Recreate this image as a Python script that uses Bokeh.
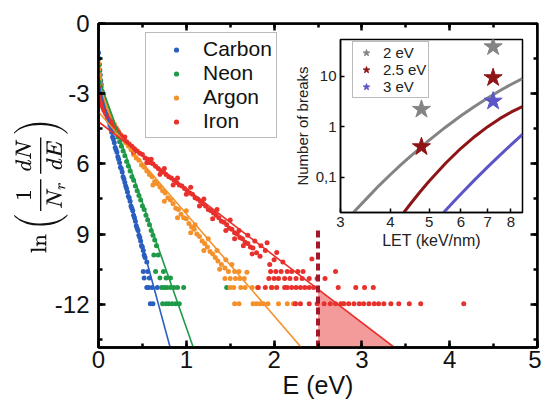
from bokeh.plotting import figure
from bokeh.models import (Range1d, SingleIntervalTicker, LinearAxis, FixedTicker,
                          CustomJSTickFormatter, Legend, LegendItem)
from bokeh.embed import file_html
from bokeh.resources import INLINE

# ---------------- main panel data ----------------
carbon_x = [0.00, 0.005, 0.01, 0.015, 0.02, 0.025, 0.03, 0.04, 0.05, 0.06, 0.07, 0.08, 0.09, 0.10,
            0.11, 0.12, 0.13, 0.14, 0.15, 0.16, 0.17, 0.18, 0.19, 0.20, 0.21, 0.22, 0.23, 0.24,
            0.25, 0.26, 0.27, 0.28, 0.29, 0.30, 0.31, 0.32, 0.33, 0.34, 0.35, 0.36, 0.37, 0.38,
            0.39, 0.40, 0.41, 0.42, 0.43, 0.44, 0.45, 0.46, 0.47, 0.48, 0.49, 0.50, 0.51, 0.52,
            0.53, 0.55, 0.51, 0.56, 0.52, 0.58, 0.55, 0.61, 0.57, 0.67, 0.59, 0.62]
carbon_y = [-1.25, -1.5, -1.75, -2.0, -2.2, -2.45, -2.6, -2.9, -3.1, -3.3, -3.45, -3.6, -3.75, -3.9,
            -4.05, -4.2, -4.35, -4.5, -4.65, -4.85, -4.95, -5.1, -5.3, -5.4, -5.5, -5.7, -5.8, -5.95,
            -6.15, -6.2, -6.35, -6.55, -6.65, -6.8, -6.95, -7.05, -7.2, -7.4, -7.45, -7.6, -7.8, -7.9,
            -8.0, -8.2, -8.3, -8.45, -8.65, -8.75, -8.85, -9.05, -9.15, -9.3, -9.5, -9.55, -9.7, -9.9,
            -10.0, -10.2, -10.6, -10.6, -10.88, -10.88, -11.28, -11.28, -11.28, -11.28, -11.98, -11.98]

neon_x = [0.00, 0.005, 0.01, 0.015, 0.02, 0.03, 0.04, 0.05, 0.06, 0.07, 0.08, 0.09, 0.10, 0.11,
          0.12, 0.13, 0.14, 0.15, 0.16, 0.17, 0.18, 0.19, 0.20, 0.22, 0.24, 0.26, 0.28, 0.30, 0.32,
          0.34, 0.36, 0.38, 0.40, 0.42, 0.44, 0.46, 0.48, 0.50, 0.52, 0.54, 0.56, 0.58, 0.60, 0.62,
          0.64, 0.66, 0.63, 0.68, 0.65, 0.74, 0.70, 0.77, 0.82,
          0.72, 0.75, 0.78, 0.82, 0.86, 0.90, 0.97, 0.73, 0.77, 0.80, 0.84, 0.88, 0.92, 1.46]
neon_y = [-1.5, -1.75, -2.0, -2.2, -2.4, -2.7, -2.9, -3.05, -3.2, -3.3, -3.4, -3.5, -3.6, -3.7,
          -3.8, -3.9, -4.0, -4.1, -4.2, -4.3, -4.4, -4.5, -4.6, -4.85, -5.05, -5.25, -5.45, -5.65, -5.9,
          -6.1, -6.3, -6.55, -6.7, -6.95, -7.15, -7.35, -7.55, -7.8, -7.95, -8.2, -8.4, -8.6, -8.85, -9.05,
          -9.25, -9.5, -9.9, -9.9, -10.6, -10.6, -10.88, -10.88, -10.88,
          -11.28, -11.28, -11.28, -11.28, -11.28, -11.28, -11.28, -11.98, -11.98, -11.98, -11.98,
          -11.98, -11.98, -11.28]

argon_x = [0.00, 0.005, 0.01, 0.015, 0.02, 0.03, 0.04, 0.05, 0.06, 0.07, 0.08, 0.09, 0.10, 0.12,
           0.14, 0.16, 0.18, 0.20, 0.22, 0.25, 0.28, 0.31, 0.34, 0.37, 0.40, 0.43, 0.46, 0.49, 0.52,
           0.55, 0.58, 0.61, 0.64, 0.67, 0.70, 0.73, 0.76, 0.79, 0.82, 0.85, 0.88, 0.91, 0.94, 0.97,
           1.00, 1.03, 1.06, 1.09, 1.12, 1.15, 1.18, 1.21, 1.24, 1.27, 1.30, 1.33, 1.36, 1.40, 1.44,
           1.48, 0.62, 0.75, 0.90, 1.00, 1.05, 1.10, 1.20, 1.25, 1.35, 1.38, 1.45, 1.52, 1.55, 1.60,
           1.69, 1.44, 1.50, 1.56, 1.61, 1.66, 1.50, 1.54, 1.62, 1.67, 1.75, 1.81, 1.98,
           1.55, 1.60, 1.76, 1.80, 1.84, 1.88, 1.93, 2.05, 2.15, 2.22, 2.25, 2.80]
argon_y = [-1.7, -1.95, -2.2, -2.4, -2.6, -2.85, -3.05, -3.2, -3.35, -3.45, -3.55, -3.65, -3.75, -3.9,
           -4.05, -4.2, -4.3, -4.45, -4.55, -4.75, -4.9, -5.1, -5.25, -5.4, -5.6, -5.75, -5.85, -6.05,
           -6.15, -6.3, -6.45, -6.55, -6.75, -6.85, -7.0, -7.15, -7.25, -7.45, -7.55, -7.7, -7.9, -7.95,
           -8.15, -8.3, -8.35, -8.55, -8.7, -8.8, -9.0, -9.1, -9.3, -9.4, -9.55, -9.75, -9.85, -10.0,
           -10.15, -10.3, -10.45, -10.6, -6.9, -7.6, -8.3, -8.0, -8.95, -8.6, -9.7, -9.2, -9.7, -10.5,
           -10.1, -10.3, -10.6, -10.6, -10.63, -10.9, -10.9, -10.9, -10.9, -10.9,
           -11.28, -11.28, -11.28, -11.28, -11.28, -11.28, -11.28,
           -11.98, -11.98, -11.98, -11.98, -11.98, -11.98, -11.98, -11.98, -11.98, -11.98, -11.98, -11.98]

iron_x = [0.00, 0.005, 0.01, 0.015, 0.02, 0.03, 0.04, 0.05, 0.06, 0.07, 0.08, 0.09, 0.10, 0.12,
          0.14, 0.16, 0.18, 0.20, 0.23, 0.26, 0.29, 0.32, 0.35, 0.38, 0.41, 0.44, 0.47, 0.50, 0.53,
          0.56, 0.59, 0.62, 0.65, 0.68, 0.71, 0.74, 0.77, 0.80, 0.83, 0.86, 0.89, 0.92, 0.95, 0.98,
          1.01, 1.04, 1.07, 1.10, 1.13, 1.16, 1.19, 1.22, 1.25, 1.28, 1.31, 1.34, 1.37, 1.40, 1.43,
          1.46, 1.49, 1.52, 1.55, 1.58, 1.61, 1.64, 1.67, 1.70, 1.73, 1.76, 1.80, 1.84,
          0.30, 0.40, 0.55, 0.60, 0.70, 0.75, 0.85, 0.90, 1.00, 1.05, 1.15, 1.20, 1.30, 1.35, 1.45,
          1.50, 1.55, 1.60, 1.65, 1.70, 1.75, 1.78, 1.85, 1.90, 1.92, 2.03, 2.00, 1.95, 2.43, 2.10,
          1.96, 2.02, 2.08, 2.15, 2.20, 2.27, 2.33, 2.70,
          1.94, 2.00, 2.05, 2.12, 2.18, 2.25, 2.32, 2.40, 2.49, 2.58,
          1.82, 1.90, 1.97, 2.03, 2.12, 2.15, 2.20, 2.25, 2.30, 2.35, 2.40, 2.45, 2.73, 2.93, 3.03, 3.13,
          2.24, 2.30, 2.40, 2.49, 2.57, 2.64, 2.70, 2.76, 2.79, 2.85, 2.91, 2.97, 3.02, 3.08, 3.14,
          3.19, 3.25, 3.33, 3.42, 3.54, 3.67, 4.16]
iron_y = [-2.5, -2.75, -2.95, -3.1, -3.2, -3.35, -3.5, -3.6, -3.7, -3.75, -3.85, -3.9, -4.0, -4.1,
          -4.2, -4.3, -4.4, -4.5, -4.65, -4.8, -4.95, -5.05, -5.15, -5.25, -5.35, -5.45, -5.55, -5.6,
          -5.75, -5.8, -5.95, -6.0, -6.1, -6.2, -6.3, -6.35, -6.45, -6.55, -6.6, -6.7, -6.8, -6.9,
          -6.95, -7.05, -7.15, -7.25, -7.3, -7.45, -7.5, -7.6, -7.7, -7.8, -7.95, -8.0, -8.1, -8.2,
          -8.3, -8.45, -8.5, -8.6, -8.75, -8.8, -8.95, -9.0, -9.15, -9.2, -9.35, -9.4, -9.55, -9.6,
          -9.8, -9.95,
          -4.85, -5.5, -5.95, -5.8, -6.45, -6.2, -6.9, -6.6, -7.3, -7.0, -7.8, -7.5, -8.35, -7.95,
          -8.85, -8.4, -9.2, -8.85, -9.5, -9.05, -9.85, -9.3, -9.5, -9.7, -9.37, -9.79, -10.1, -10.3,
          -10.07, -10.2,
          -10.6, -10.6, -10.6, -10.6, -10.6, -10.6, -10.6, -10.6,
          -10.9, -10.9, -10.9, -10.9, -10.9, -10.9, -10.9, -10.9, -10.9, -10.9,
          -11.28, -11.28, -11.28, -11.28, -11.28, -11.28, -11.28, -11.28, -11.28, -11.28, -11.28,
          -11.28, -11.28, -11.28, -11.28, -11.28,
          -11.98, -11.98, -11.98, -11.98, -11.98, -11.98, -11.98, -11.98, -11.98, -11.98, -11.98,
          -11.98, -11.98, -11.98, -11.98, -11.98, -11.98, -11.98, -11.98, -11.98, -11.98, -11.98]

carbon_fit_x, carbon_fit_y = [0.0, 0.82], [-2.57, -13.9]
neon_fit_x, neon_fit_y = [0.0, 1.08], [-2.3, -13.85]
argon_fit_x, argon_fit_y = [0.0, 2.31], [-3.78, -13.85]
iron_fit_x, iron_fit_y = [0.0, 3.37], [-4.2, -13.85]

threshold_x = [2.5, 2.5]
threshold_y = [-13.85, -8.7]
shade_x = [2.5, 2.5, 3.37]
shade_y = [-11.35, -13.85, -13.85]

series_names = ["Carbon", "Neon", "Argon", "Iron"]
series_colors = ["#2a5fc0", "#1e9a48", "#f5912a", "#e8302c"]

# ---------------- inset data ----------------
curve_2eV_x = [3.23, 3.5, 3.75, 4.0, 4.25, 4.5, 5.0, 5.5, 6.0, 6.5, 7.0, 7.5, 8.0, 8.55]
curve_2eV_y = [0.020, 0.039, 0.069, 0.113, 0.177, 0.265, 0.542, 0.986, 1.64, 2.54, 3.70, 5.13, 6.82, 8.98]
curve_25eV_x = [4.32, 4.5, 4.75, 5.0, 5.5, 6.0, 6.5, 7.0, 7.5, 8.0, 8.55]
curve_25eV_y = [0.020, 0.0305, 0.052, 0.084, 0.191, 0.373, 0.640, 1.0, 1.44, 1.93, 2.5]
curve_3eV_x = [5.43, 5.75, 6.0, 6.5, 7.0, 7.5, 8.0, 8.55]
curve_3eV_y = [0.020, 0.0326, 0.0466, 0.0893, 0.16, 0.270, 0.435, 0.70]

stars_2eV_x, stars_2eV_y = [4.78, 7.22], [2.2, 38.0]
stars_25eV_x, stars_25eV_y = [4.78, 7.22], [0.4, 9.3]
stars_3eV_x, stars_3eV_y = [7.22], [3.2]

inset_labels = ["2 eV", "2.5 eV", "3 eV"]
inset_colors = ["#848484", "#8e1416", "#5b55c8"]

FONT = "Liberation Sans"

# ---------------- main figure ----------------
p = figure(width=541, height=404, x_range=Range1d(0, 5), y_range=Range1d(-13.85, 0),
           output_backend="svg", toolbar_location=None,
           min_border_left=98, min_border_top=23, min_border_right=4, min_border_bottom=57)
p.grid.visible = False
p.outline_line_color = "black"
p.outline_line_width = 2.5
p.background_fill_color = "white"
p.border_fill_color = "white"

xt = SingleIntervalTicker(interval=1, num_minor_ticks=2)
yt = SingleIntervalTicker(interval=3, num_minor_ticks=2)
p.xaxis.ticker = xt
p.yaxis.ticker = yt
p.yaxis.formatter = CustomJSTickFormatter(
    code="if (tick == -6 || tick == -9) { return String(-tick); } return String(tick);")

for ax in (p.xaxis[0], p.yaxis[0]):
    ax.axis_line_width = 2.5
    ax.major_tick_line_width = 2.5
    ax.minor_tick_line_width = 2.5
    ax.major_tick_in = 7
    ax.major_tick_out = 0
    ax.minor_tick_in = 4
    ax.minor_tick_out = 0
    ax.major_label_text_font = FONT
    ax.major_label_text_font_size = "24px"
    ax.major_label_text_color = "#111111"
    ax.axis_label_text_font = FONT
    ax.axis_label_text_font_style = "normal"
    ax.axis_label_text_color = "#111111"

p.xaxis.axis_label = "E (eV)"
p.xaxis.axis_label_text_font_size = "25px"
p.xaxis.major_label_standoff = 3
p.xaxis.axis_label_standoff = 0
p.yaxis.axis_label = r"$$\ln\left(\frac{1}{N_r}\frac{dN}{dE}\right)$$"
p.yaxis.axis_label_text_font_size = "19px"
p.yaxis.major_label_standoff = 9
p.yaxis.axis_label_standoff = -16

# mirrored tick axes on top and right, pinned to the frame edges (no extra panel space)
for side, tk, loc in (("above", xt, 0), ("right", yt, 5)):
    a = LinearAxis(ticker=tk, formatter=CustomJSTickFormatter(code="return '';"),
                   fixed_location=loc,
                   major_label_text_font_size="1px", major_label_standoff=0,
                   axis_line_width=2.5, major_tick_line_width=2.5, minor_tick_line_width=2.5,
                   major_tick_in=7, major_tick_out=0, minor_tick_in=4, minor_tick_out=0)
    p.add_layout(a, side)

p.patch(shade_x, shade_y, fill_color="#ef7a7a", fill_alpha=0.75, line_color=None)

scatter_data = [(carbon_x, carbon_y), (neon_x, neon_y), (argon_x, argon_y), (iron_x, iron_y)]
fit_data = [(carbon_fit_x, carbon_fit_y), (neon_fit_x, neon_fit_y),
            (argon_fit_x, argon_fit_y), (iron_fit_x, iron_fit_y)]
items = []
for (sx, sy), name, col in zip(scatter_data, series_names, series_colors):
    r = p.scatter(sx, sy, size=5, color=col, line_color=None)
    items.append(LegendItem(label=name, renderers=[r]))
for (fx, fy), col in zip(fit_data, series_colors):
    p.line(fx, fy, line_color=col, line_width=1.6)

p.line(threshold_x, threshold_y, line_color="#a3172a", line_width=4, line_dash="7 4")

leg = Legend(items=items, location=(47, 209), orientation="vertical",
             label_text_font=FONT, label_text_font_size="21px", label_text_color="#111111",
             label_height=21, glyph_height=13, glyph_width=52, label_standoff=1,
             spacing=0, padding=4, margin=0,
             border_line_color="#777777", border_line_width=1.2,
             background_fill_color="white", background_fill_alpha=1.0)
p.add_layout(leg, "center")

# ---------------- inset figure ----------------
ins = figure(width=236, height=222, x_axis_type="log", y_axis_type="log",
             x_range=Range1d(3, 8.55), y_range=Range1d(0.02, 53),
             output_backend="svg", toolbar_location=None,
             min_border_left=43, min_border_top=9, min_border_right=4, min_border_bottom=40)
ins.grid.visible = False
ins.background_fill_color = None
ins.border_fill_color = None
ins.outline_line_color = "black"
ins.outline_line_width = 1.5
ins.xaxis.ticker = FixedTicker(ticks=[3, 4, 5, 6, 7, 8], minor_ticks=[])
ins.yaxis.ticker = FixedTicker(ticks=[0.1, 1, 10], minor_ticks=[])
ins.xaxis.formatter = CustomJSTickFormatter(code="return String(Math.round(tick));")
ins.yaxis.formatter = CustomJSTickFormatter(
    code="return tick < 0.5 ? '0,1' : String(Math.round(tick));")
for ax in (ins.xaxis[0], ins.yaxis[0]):
    ax.axis_line_width = 1.5
    ax.major_tick_line_width = 1.5
    ax.major_tick_in = 4
    ax.major_tick_out = 0
    ax.major_label_text_font = FONT
    ax.major_label_text_font_size = "15px"
    ax.major_label_text_color = "#222222"
    ax.major_label_standoff = 4
    ax.axis_label_text_font = FONT
    ax.axis_label_text_font_style = "normal"
    ax.axis_label_text_color = "#222222"
    ax.axis_label_standoff = 2
ins.xaxis.axis_label = "LET (keV/nm)"
ins.xaxis.axis_label_text_font_size = "16px"
ins.yaxis.axis_label = "Number of breaks"
ins.yaxis.axis_label_text_font_size = "15px"

curves = [(curve_2eV_x, curve_2eV_y), (curve_25eV_x, curve_25eV_y), (curve_3eV_x, curve_3eV_y)]
stars = [(stars_2eV_x, stars_2eV_y), (stars_25eV_x, stars_25eV_y), (stars_3eV_x, stars_3eV_y)]
for (cx, cy), col in zip(curves, inset_colors):
    ins.line(cx, cy, line_color=col, line_width=3)
inset_items = []
for (sx, sy), name, col in zip(stars, inset_labels, inset_colors):
    r = ins.scatter(sx, sy, marker="star", size=19, fill_color=col, line_color=col)
    inset_items.append(LegendItem(label=name, renderers=[r]))
ileg = Legend(items=inset_items, location=(12, 114), label_text_font=FONT,
              label_text_font_size="15px", label_text_color="#222222",
              label_height=15, glyph_height=17, glyph_width=22, label_standoff=6,
              spacing=0, padding=2, margin=0,
              border_line_color="#777777", border_line_width=1,
              background_fill_color="white", background_fill_alpha=1.0)
ins.add_layout(ileg, "center")
ins.styles = {"position": "absolute", "left": "290px", "top": "30px"}

open("out.html", "w").write(file_html([p, ins], INLINE))
